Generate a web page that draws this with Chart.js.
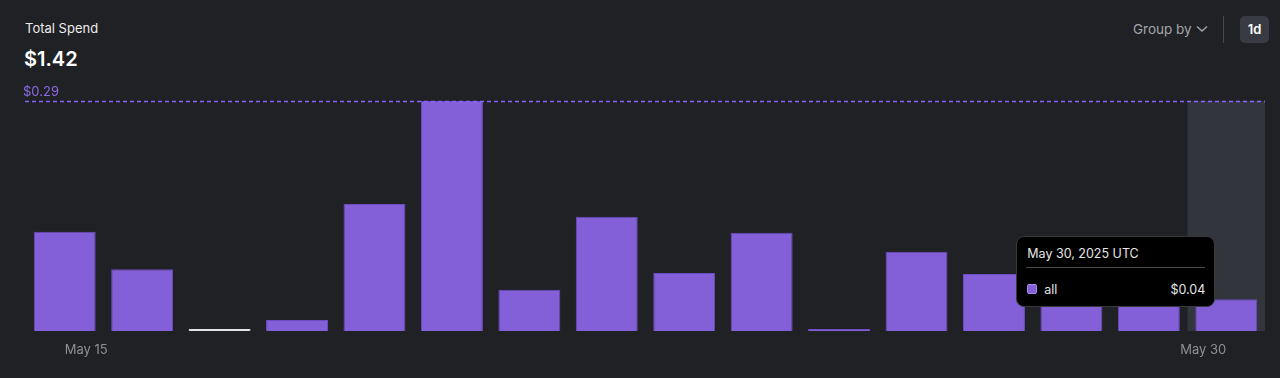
<!DOCTYPE html>
<html>
<head>
<meta charset="utf-8">
<script src="https://cdn.jsdelivr.net/npm/chart.js@4.4.1/dist/chart.umd.min.js"></script>
<style>
    html, body { margin: 0; padding: 0; background: #202124; width: 1280px; height: 378px; overflow: hidden; font-family: Inter, "Noto Sans", sans-serif; }
    .title { position: absolute; left: 25px; top: 20px; font-size: 13px; color: #ececec; }
    .total { position: absolute; left: 24px; top: 47px; font-size: 20px; font-weight: 600; color: #fff; }
    .group { position: absolute; left: 1133px; top: 21px; font-size: 13.5px; color: #a3a4aa; }
    .group svg { vertical-align: middle; margin-left: 4px; margin-top: -2px; }
    .sep { position: absolute; left: 1223px; top: 16px; width: 1px; height: 27px; background: #46474c; }
    .btn { position: absolute; left: 1240px; top: 16px; width: 29px; height: 27px; border-radius: 5px; background: #393b43; color: #fff; font-size: 13px; font-weight: 600; text-align: center; line-height: 27px; }
    .chart-wrap { position: absolute; left: 0; top: 80px; width: 1280px; height: 298px; }
    #tip { position: absolute; display: none; width: 197px; height: 69px; background: #000; border: 1px solid #38393d; border-radius: 8px; color: #e6e6e6; font-size: 12.5px; }
    #tip .t { position: absolute; left: 10px; top: 9px; }
    #tip .line { position: absolute; left: 9px; right: 9px; top: 30px; height: 1px; background: #45464b; }
    #tip .sw { position: absolute; left: 10px; top: 47px; width: 10px; height: 10px; border-radius: 2px; background: #8460d8; border: 1px solid #a58af0; box-sizing: border-box; }
    #tip .n { position: absolute; left: 27px; top: 45px; }
    #tip .v { position: absolute; right: 9px; top: 45px; }
</style>
</head>
<body>
<div class="title">Total Spend</div>
<div class="total" id="total"></div>
<div class="group">Group by<svg width="12" height="8" viewBox="0 0 12 8"><path d="M1 1.5 L6 6 L11 1.5" stroke="#a3a4aa" stroke-width="1.4" fill="none"/></svg></div>
<div class="sep"></div>
<div class="btn">1d</div>
<div class="chart-wrap"><canvas id="spendChart"></canvas></div>
<div id="tip"><div class="t"></div><div class="line"></div><div class="sw"></div><div class="n"></div><div class="v"></div></div>
<script>
// Daily spend, May 15 - May 30 (2025)
const days = ['May 15', 'May 16', 'May 17', 'May 18', 'May 19', 'May 20', 'May 21', 'May 22',
    'May 23', 'May 24', 'May 25', 'May 26', 'May 27', 'May 28', 'May 29', 'May 30'];
const spend = [0.125, 0.078, 0, 0.014, 0.16, 0.29, 0.052, 0.144, 0.073, 0.124, 0.0025, 0.1, 0.072, 0.071, 0.074, 0.04];
const shownTicks = ['May 15', 'May 30'];
const seriesName = 'all';
const year = 2025;
const activeIndex = 15;

const PURPLE = '#8460d8';
const fmt = (v) => '$' + v.toFixed(2);

document.getElementById('total').textContent = fmt(spend.reduce((s, v) => s + v, 0));
const maxVal = Math.max(...spend);

// grey column behind hovered day
const hoverColumn = {
    id: 'hoverColumn',
    beforeDatasetsDraw(chart) {
        const active = chart.tooltip.getActiveElements();
        if (!active.length) return;
        const { ctx, chartArea, scales } = chart;
        const idx = active[0].index;
        const step = scales.x.getPixelForValue(1) - scales.x.getPixelForValue(0);
        const x = scales.x.getPixelForValue(idx) - step / 2;
        ctx.save();
        ctx.fillStyle = '#33353c';
        ctx.fillRect(x, chartArea.top, step, chartArea.bottom - chartArea.top);
        ctx.restore();
    }
};

// dashed line at the peak value
const peakLine = {
    id: 'peakLine',
    afterDatasetsDraw(chart) {
        const { ctx, chartArea, scales } = chart;
        const y = Math.round(scales.y.getPixelForValue(maxVal)) + 0.5;
        ctx.save();
        ctx.strokeStyle = '#8a64ff';
        ctx.lineWidth = 1.3;
        ctx.setLineDash([4, 3]);
        ctx.beginPath();
        ctx.moveTo(chartArea.left - 1, y);
        ctx.lineTo(chartArea.right, y);
        ctx.stroke();
        ctx.setLineDash([]);
        ctx.fillStyle = '#8c6be6';
        ctx.font = '13px Inter, "Noto Sans", sans-serif';
        ctx.textBaseline = 'bottom';
        ctx.fillText(fmt(maxVal), chartArea.left - 3, y - 3);
        ctx.restore();
    }
};

const externalTip = (context) => {
    const { chart, tooltip } = context;
    const el = document.getElementById('tip');
    if (!tooltip || tooltip.opacity === 0 || !tooltip.dataPoints || !tooltip.dataPoints.length) {
        el.style.display = 'none';
        return;
    }
    const dp = tooltip.dataPoints[0];
    el.querySelector('.t').textContent = `${days[dp.dataIndex]}, ${year} UTC`;
    el.querySelector('.n').textContent = seriesName;
    el.querySelector('.v').textContent = fmt(dp.raw);
    const bar = chart.getDatasetMeta(0).data[dp.dataIndex];
    const box = chart.canvas.getBoundingClientRect();
    el.style.display = 'block';
    el.style.left = (box.left + bar.x - 210) + 'px';
    el.style.top = (box.top + bar.y - 63) + 'px';
};

const chart = new Chart(document.getElementById('spendChart'), {
    type: 'bar',
    data: {
        labels: days,
        datasets: [{
            label: seriesName,
            data: spend,
            backgroundColor: spend.map(v => v === 0 ? '#e4e4e6' : PURPLE),
            borderColor: spend.map(v => v === 0 ? '#e4e4e6' : '#6d4cc4'),
            borderWidth: 1,
            barPercentage: 0.8,
            categoryPercentage: 1,
            minBarLength: 2
        }]
    },
    plugins: [hoverColumn, peakLine],
    options: {
        responsive: true,
        maintainAspectRatio: false,
        animation: false,
        layout: { padding: { left: 26, right: 15, top: 21, bottom: 0 } },
        events: [],
        plugins: {
            legend: { display: false },
            tooltip: { enabled: false, external: externalTip }
        },
        scales: {
            y: {
                display: false,
                min: 0,
                max: maxVal
            },
            x: {
                grid: { display: false, drawTicks: false },
                border: { display: false },
                afterFit: (s) => { s.height = 47; },
                ticks: {
                    autoSkip: false,
                    maxRotation: 0,
                    align: 'inner',
                    padding: 11,
                    color: '#8e8f95',
                    font: { family: 'Inter, "Noto Sans", sans-serif', size: 13 },
                    callback: (val, i) => shownTicks.includes(days[i]) ? days[i] : ''
                }
            }
        }
    }
});

chart.tooltip.setActiveElements([{ datasetIndex: 0, index: activeIndex }], { x: 0, y: 0 });
chart.update();
</script>
</body>
</html>
